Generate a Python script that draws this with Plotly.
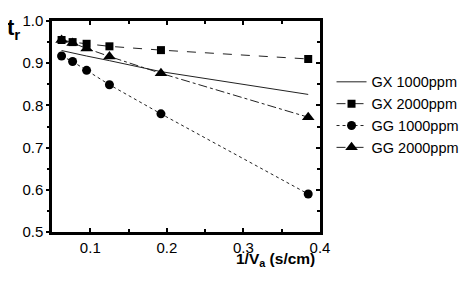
import plotly.graph_objects as go

x = [0.0625, 0.0769, 0.0952, 0.125, 0.1923, 0.3846]
gx1000 = [0.930, 0.924, 0.917, 0.906, 0.880, 0.826]
gx2000 = [0.955, 0.950, 0.946, 0.940, 0.931, 0.910]
gg1000 = [0.917, 0.904, 0.883, 0.849, 0.780, 0.590]
gg2000 = [0.955, 0.948, 0.935, 0.916, 0.876, 0.772]

names = ["GX 1000ppm", "GX 2000ppm", "GG 1000ppm", "GG 2000ppm"]
ys = [gx1000, gx2000, gg1000, gg2000]
dashes = ["solid", "dash", "dot", "dashdot"]
modes = ["lines", "lines+markers", "lines+markers", "lines+markers"]
symbols = ["square", "square", "circle", "triangle-up"]
sizes = [8, 8, 9, 11]

FONT = "Liberation Sans, Arial, sans-serif"

fig = go.Figure()
for n, y, d, m, s, sz in zip(names, ys, dashes, modes, symbols, sizes):
    fig.add_trace(go.Scatter(
        x=x, y=y, name=n, mode=m,
        line=dict(color="#222", width=1, dash=d),
        marker=dict(symbol=s, size=sz, color="black"),
    ))
# right-side axis for inward mirror ticks
fig.add_trace(go.Scatter(x=[x[0]], y=[gx1000[0]], yaxis="y2", mode="markers",
                         marker=dict(opacity=0), showlegend=False, hoverinfo="skip"))

# page body has an 8px margin, so the figure is sized/offset to compensate
fig.update_layout(
    width=461, height=275,
    margin=dict(l=44, r=146, t=4, b=51),
    paper_bgcolor="white", plot_bgcolor="white",
    font=dict(family=FONT, size=15, color="black"),
    showlegend=True,
    legend=dict(x=1.043, y=0.555, xanchor="left", yanchor="middle",
                font=dict(size=14.5, family=FONT), bgcolor="rgba(0,0,0,0)",
                itemwidth=30, tracegroupgap=0),
    xaxis=dict(range=[0.05, 0.4], tickvals=[0.1, 0.2, 0.3, 0.4],
               ticktext=["0.1", "0.2", "0.3", "0.4"],
               ticks="inside", ticklen=4, tickwidth=1.5, tickcolor="black",
               minor=dict(dtick=0.05, ticks="inside", ticklen=3, tickwidth=1.5, tickcolor="black", showgrid=False),
               showline=True, linewidth=2.5, linecolor="black", mirror="ticks",
               showgrid=False, zeroline=False, tickfont=dict(size=15),
               ticklabeloverflow="allow"),
    yaxis=dict(range=[0.5, 1.0], dtick=0.1, tickformat=".1f",
               ticks="outside", ticklen=3, tickwidth=1.5, tickcolor="black",
               minor=dict(dtick=0.05, ticks="outside", ticklen=2, tickwidth=1.5, tickcolor="black", showgrid=False),
               showline=True, linewidth=2.5, linecolor="black",
               showgrid=False, zeroline=False, tickfont=dict(size=15),
               ticklabeloverflow="allow"),
    yaxis2=dict(range=[0.5, 1.0], overlaying="y", side="right", dtick=0.1,
                ticks="inside", ticklen=4, tickwidth=1.5, tickcolor="black",
                minor=dict(dtick=0.05, ticks="inside", ticklen=3, tickwidth=1.5, tickcolor="black", showgrid=False),
                showline=True, linewidth=2.5, linecolor="black",
                showticklabels=False, showgrid=False, zeroline=False),
    annotations=[
        dict(text="<b>t<sub>r</sub></b>", xref="paper", yref="paper", x=-0.144, y=0.962,
             xanchor="center", yanchor="middle", showarrow=False, font=dict(size=22, family=FONT)),
        dict(text="<b>1/V<sub>a</sub> (s/cm)</b>", xref="paper", yref="paper", x=0.834, y=-0.13,
             xanchor="center", yanchor="middle", showarrow=False, font=dict(size=15.5, family=FONT)),
    ],
)

fig.write_html("out.html", config={"displayModeBar": False})
